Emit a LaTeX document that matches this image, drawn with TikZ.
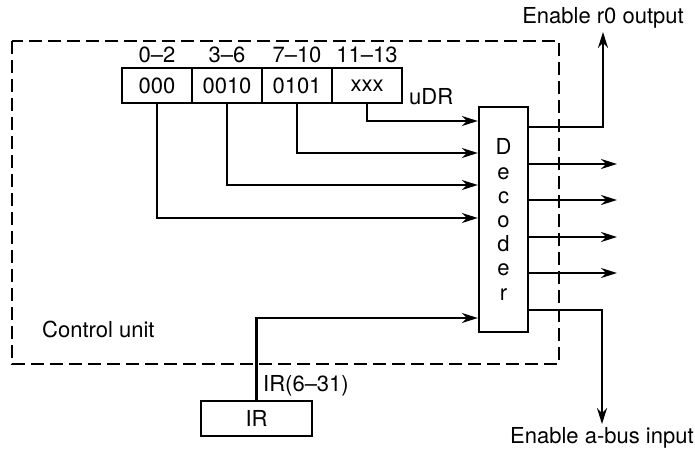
\documentclass[tikz,border=0pt]{standalone}
\usepackage{fontspec}
\setmainfont{TeX Gyre Heros}
\usetikzlibrary{arrows.meta,positioning}
\tikzset{
  cell/.style={draw,line width=2.3pt,minimum width=70pt,minimum height=35pt,inner sep=0pt},
  decbox/.style={draw,line width=2.3pt,minimum width=49pt,minimum height=225pt,inner sep=0pt,align=center},
  wire/.style={line width=2.3pt,-{Stealth[length=16pt,width=10pt]}},
}
\begin{document}
\begin{tikzpicture}[x=1pt,y=-1pt,font=\fontsize{22}{24.2}\selectfont]
\useasboundingbox (0,0) rectangle (695,450);

% control unit border
\draw[line width=2.3pt,dash pattern=on 13pt off 6pt] (12,41) rectangle (559,364);
\node[anchor=west,inner sep=0pt] (cu) at (42,329) {Control unit};

% uDR fields
\node[cell] (f0) at (157,85.5) {000};
\node[cell] (f1) at (227,85.5) {0010};
\node[cell] (f2) at (297,85.5) {0101};
\node[cell] (f3) at (367,85.5) {xxx};
\node (b0) at (157,55) {0--2};
\node (b1) at (227,55) {3--6};
\node (b2) at (297,55) {7--10};
\node (b3) at (367,55) {11--13};
\node[anchor=west,inner sep=0pt] (udr) at (409,97) {uDR};

% decoder
\node[decbox] (dec) at (503.5,219.5) {D\\e\\c\\o\\d\\e\\r};

% IR
\node[cell,minimum width=111pt] (ir) at (256.5,418.5) {IR};
\node[anchor=west,inner sep=0pt] (irl) at (263,386) {IR(6--31)};

% inputs
\coordinate (in1) at (dec.west |- 0,121);
\coordinate (in2) at (dec.west |- 0,153);
\coordinate (in3) at (dec.west |- 0,185);
\coordinate (in4) at (dec.west |- 0,218);
\coordinate (in5) at (dec.west |- 0,318);
\draw[wire] (f3.south) |- (in1);
\draw[wire] (f2.south) |- (in2);
\draw[wire] (f1.south) |- (in3);
\draw[wire] (f0.south) |- (in4);
\draw[wire] (ir.north) |- (in5);

% outputs
\node (r0) at (603,18) {Enable r0 output};
\node (abus) at (602,438) {Enable a-bus input};
\coordinate (o1) at (dec.east |- 0,127);
\coordinate (o6) at (dec.east |- 0,310);
\draw[wire] (o1) -| (r0.south);
\draw[wire] (o6) -| (abus.north);
\foreach \y in {164,200,237,273}
  \draw[wire] (dec.east |- 0,\y) -- (617,\y);
\end{tikzpicture}
\end{document}
